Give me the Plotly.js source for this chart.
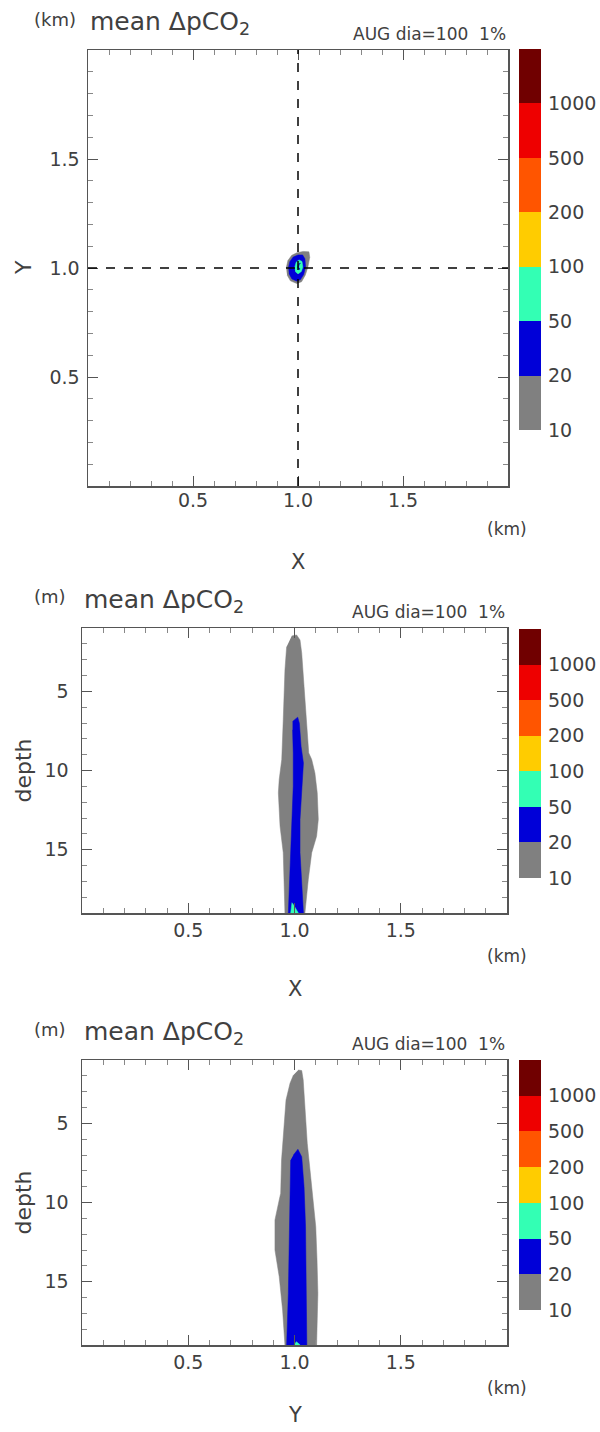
<!DOCTYPE html>
<html><head><meta charset="utf-8">
<script src="https://cdn.plot.ly/plotly-3.0.1.min.js"></script>
<style>body{margin:0;background:#fff}</style>
</head><body><div id="chart" style="width:600px;height:1432px"></div>
<script>
// ---- data ----
const levelLabels = ['10','20','50','100','200','500','1000'];
const levelColors = ['#808080','#0000d8','#33ffb4','#ffcc00','#ff5500','#ee0000','#700000'];
const axisTicks = [0.5, 1.0, 1.5];
const axisTickText = ['0.5','1.0','1.5'];
const depthTicks = [5, 10, 15];
const depthTickText = ['5','10','15'];

// Panel 1: horizontal section (X, Y in km)
const p1GrayX = [0.944,0.952,0.970,0.995,1.025,1.052,1.056,1.047,1.035,1.017,0.994,0.964,0.948];
const p1GrayY = [1.000,1.034,1.058,1.070,1.076,1.074,1.049,1.005,0.968,0.937,0.929,0.941,0.968];
const p1BlueX = [0.954,0.961,0.977,1.000,1.022,1.033,1.036,1.027,1.011,0.993,0.971,0.957];
const p1BlueY = [1.000,1.029,1.050,1.060,1.060,1.042,1.005,0.970,0.946,0.940,0.950,0.974];
const p1CyanX = [0.984,0.991,1.005,1.019,1.023,1.016,1.000,0.987];
const p1CyanY = [1.000,1.026,1.037,1.030,1.005,0.984,0.973,0.984];
const p1CoreX = [0.998,1.004,1.012,1.006,1.002,1.010,1.003];
const p1CoreY = [1.002,1.020,1.022,1.016,1.004,0.995,0.992];

// Panel 2: X-depth section
const p2GrayX = [0.987,1.010,1.026,1.034,1.045,1.057,1.067,1.081,1.096,1.107,1.112,1.104,1.081,1.065,1.049,0.955,0.952,0.947,0.932,0.924,0.928,0.940,0.947,0.955,0.963];
const p2GrayZ = [1.50,1.44,1.76,2.59,4.70,6.80,8.89,9.31,10.15,11.41,13.09,14.15,15.19,16.87,19.0,19.0,17.30,15.19,13.52,11.41,10.57,9.31,6.80,3.65,2.18];
const p2BlueX = [0.991,1.015,1.023,1.031,1.042,1.034,1.026,1.026,1.034,1.042,0.971,0.979,0.987,0.994,0.994,0.991];
const p2BlueZ = [6.90,6.63,7.01,8.48,9.53,11.0,13.09,15.19,17.30,19.0,19.0,16.24,13.09,11.0,8.89,7.43];
const p2CyanX = [0.982,0.988,0.996,1.018];
const p2CyanZ = [19.0,18.35,18.5,19.0];

// Panel 3: Y-depth section
const p3GrayY = [1.018,1.034,1.041,1.049,1.060,1.073,1.089,1.100,1.106,1.110,1.104,0.955,0.944,0.928,0.908,0.908,0.928,0.935,0.939,0.951,0.960,0.979,0.995];
const p3GrayZ = [1.63,1.67,2.26,4.16,6.26,7.95,9.84,11.53,13.63,15.74,19.0,19.0,16.79,14.68,13.0,11.1,9.84,9.42,7.32,5.21,3.53,2.47,1.95];
const p3BlueY = [0.995,1.016,1.034,1.045,1.052,1.056,1.058,0.963,0.971,0.975,0.979,0.982];
const p3BlueZ = [7.0,6.64,7.11,9.0,11.53,14.68,19.0,19.0,15.74,12.58,9.0,7.32];
const p3CyanY = [0.998,1.009,1.027];
const p3CyanZ = [19.0,18.79,19.0];

// ---- layout helpers ----
const W = 600, H = 1432;
const fx = v => v / W;
const fy = v => 1 - v / H;
const FONT = 'DejaVu Sans, Liberation Sans, sans-serif';
const TXT = '#404040';

function poly(x, y, color, xa, ya) {
  return {type:'scatter', mode:'lines', x:x, y:y, fill:'toself', fillcolor:color,
          line:{color:color, width:0.5}, xaxis:xa, yaxis:ya, hoverinfo:'skip', showlegend:false};
}
function cbar(xa, ya) {
  return {type:'bar', x:levelLabels.map(()=>0), y:levelLabels.map(()=>1),
          base:levelLabels.map((_,i)=>i), width:1, marker:{color:levelColors, line:{width:0}},
          xaxis:xa, yaxis:ya, hoverinfo:'skip', showlegend:false};
}
const traces = [
  poly(p1GrayX, p1GrayY, levelColors[0], 'x', 'y'),
  poly(p1BlueX, p1BlueY, levelColors[1], 'x', 'y'),
  poly(p1CyanX, p1CyanY, levelColors[2], 'x', 'y'),
  poly(p1CoreX, p1CoreY, levelColors[1], 'x', 'y'),
  poly(p2GrayX, p2GrayZ, levelColors[0], 'x2', 'y2'),
  poly(p2BlueX, p2BlueZ, levelColors[1], 'x2', 'y2'),
  poly(p2CyanX, p2CyanZ, levelColors[2], 'x2', 'y2'),
  poly(p3GrayY, p3GrayZ, levelColors[0], 'x3', 'y3'),
  poly(p3BlueY, p3BlueZ, levelColors[1], 'x3', 'y3'),
  poly(p3CyanY, p3CyanZ, levelColors[2], 'x3', 'y3'),
  cbar('x4','y4'), cbar('x5','y5'), cbar('x6','y6')
];

function frameAxis(domain, anchor, range, tickvals, ticktext, minorStep, standoff) {
  return {domain:domain, anchor:anchor, range:range, tickmode:'array', tickvals:tickvals, ticktext:ticktext,
          ticks:'inside', ticklen:10, tickwidth:1, tickcolor:'#555',
          minor:{ticks:'inside', ticklen:5, tickwidth:1, tickcolor:'#888', dtick:minorStep, tick0:0, showgrid:false},
          showline:true, linecolor:'#555', linewidth:1.5, mirror:'ticks',
          showgrid:false, zeroline:false, fixedrange:true, ticklabelstandoff:standoff,
          tickfont:{family:FONT, size:19, color:TXT}};
}
function cbAxes(y0, y1) {
  return [
    {domain:[fx(519), fx(541)], range:[-0.5,0.5], visible:false, fixedrange:true},
    {domain:[fy(y1), fy(y0)], range:[0,7], side:'right', tickmode:'array',
     tickvals:levelLabels.map((_,i)=>i), ticktext:levelLabels, ticks:'', showline:false,
     showgrid:false, zeroline:false, ticklabelstandoff:6, fixedrange:true,
     tickfont:{family:FONT, size:19, color:TXT}}
  ];
}

const P = [
  {L:88, R:508, T:50, B:486},
  {L:82, R:507, T:628, B:913},
  {L:82, R:507, T:1060, B:1345}
];

const layout = {
  width:W, height:H, margin:{l:0,r:0,t:0,b:0}, paper_bgcolor:'#fff', plot_bgcolor:'#fff',
  showlegend:false, bargap:0,
  xaxis: frameAxis([fx(P[0].L), fx(P[0].R)], 'y', [0,2], axisTicks, axisTickText, 0.1, -3),
  yaxis: frameAxis([fy(P[0].B), fy(P[0].T)], 'x', [0,2], axisTicks, axisTickText, 0.1, 3),
  xaxis2: frameAxis([fx(P[1].L), fx(P[1].R)], 'y2', [0,2], axisTicks, axisTickText, 0.1, 0),
  yaxis2: frameAxis([fy(P[1].B), fy(P[1].T)], 'x2', [19,1], depthTicks, depthTickText, 1, 8),
  xaxis3: frameAxis([fx(P[2].L), fx(P[2].R)], 'y3', [0,2], axisTicks, axisTickText, 0.1, 0),
  yaxis3: frameAxis([fy(P[2].B), fy(P[2].T)], 'x3', [19,1], depthTicks, depthTickText, 1, 8),
  shapes: [
    {type:'line', xref:'x', yref:'y', x0:1, x1:1, y0:0, y1:2, layer:'above', line:{color:'#000', width:1.5, dash:'dash'}},
    {type:'line', xref:'x', yref:'y', x0:0, x1:2, y0:1, y1:1, layer:'above', line:{color:'#000', width:1.5, dash:'dash'}}
  ],
  annotations: []
};
const cb = [cbAxes(49,430), cbAxes(629,878), cbAxes(1060,1310)];
['4','5','6'].forEach((n,i)=>{
  layout['xaxis'+n] = Object.assign({}, cb[i][0], {anchor:'y'+n});
  layout['yaxis'+n] = Object.assign({}, cb[i][1], {anchor:'x'+n});
});

function ann(text, x, y, xanchor, size, angle) {
  layout.annotations.push({text:text, xref:'paper', yref:'paper', x:fx(x), y:fy(y),
    xanchor:xanchor, yanchor:'middle', showarrow:false, textangle:angle||0,
    font:{family:FONT, size:size, color:TXT}});
}
const unitTop = ['(km)','(m)','(m)'];
const xNames = ['X','X','Y'];
const yNames = ['Y','depth','depth'];
const xNameOffset = [76, 76, 70];
P.forEach((p,i)=>{
  ann(unitTop[i], 32, p.T-31, 'left', 18);
  ann('mean ΔpCO<sub>2</sub>', p.L, p.T-27, 'left', 25);
  ann('AUG dia=100  1%', p.R, p.T-16, 'right', 17);
  ann('(km)', 507, p.B+43, 'center', 17);
  ann(xNames[i], (p.L+p.R)/2, p.B+xNameOffset[i], 'center', 21);
  ann(yNames[i], 23, (p.T+p.B)/2, 'center', 22, -90);
});

Plotly.newPlot('chart', traces, layout, {staticPlot:true, displayModeBar:false});
</script></body></html>
